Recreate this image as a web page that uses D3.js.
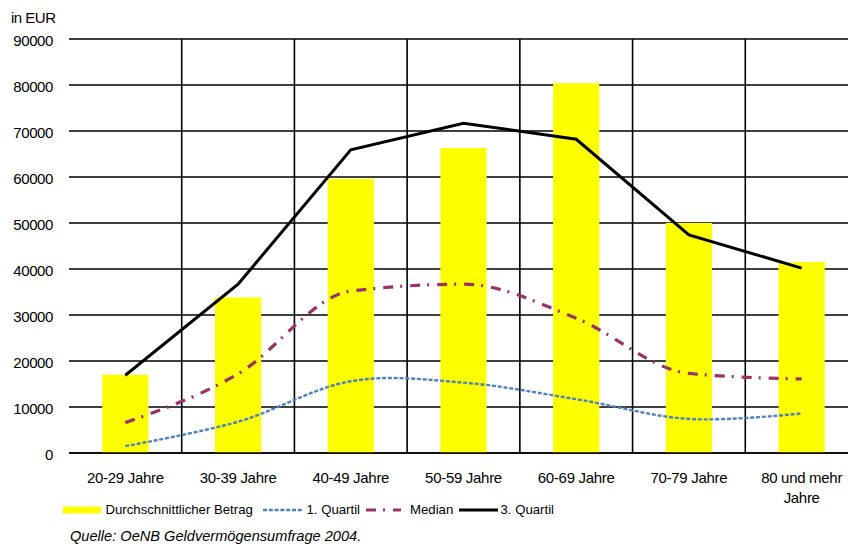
<!DOCTYPE html>
<html>
<head>
<meta charset="utf-8">
<script src="https://cdn.jsdelivr.net/npm/d3@7/dist/d3.min.js"></script>
<style>
  html, body { margin: 0; padding: 0; background: #fff; overflow: hidden; }
  svg { display: block; }
  text { font-family: "Liberation Sans", Arial, sans-serif; fill: #000; }
</style>
</head>
<body>
<svg id="chart" width="848" height="546"></svg>
<script>
const categories = ["20-29 Jahre", "30-39 Jahre", "40-49 Jahre", "50-59 Jahre", "60-69 Jahre", "70-79 Jahre", "80 und mehr|Jahre"];
const durchschnitt = [17000, 33800, 59600, 66300, 80400, 50000, 41500];
const quartil1 = [1500, 6800, 15600, 15300, 11700, 7400, 8600];
const median = [6600, 17200, 35200, 36700, 29300, 17300, 16100];
const quartil3 = [16900, 36700, 65900, 71700, 68200, 47400, 40200];
const yTicks = [0, 10000, 20000, 30000, 40000, 50000, 60000, 70000, 80000, 90000];
const legendLabels = ["Durchschnittlicher  Betrag", "1. Quartil", "Median", "3. Quartil"];
const unitLabel = "in EUR";
const sourceLabel = "Quelle: OeNB Geldvermögensumfrage 2004.";

const svg = d3.select("#chart");
const pLeft = 69, pRight = 858, pTop = 39, pBottom = 453;

const x = d3.scaleBand().domain(categories).range([pLeft, pRight]).paddingInner(0.59).paddingOuter(0.295);
const y = d3.scaleLinear().domain([0, 90000]).range([pBottom, pTop]);
const step = x.step();
const cx = c => x(c) + x.bandwidth() / 2;

// horizontal gridlines
svg.append("g").selectAll("line").data(yTicks).join("line")
  .attr("x1", pLeft).attr("x2", 848)
  .attr("y1", d => y(d)).attr("y2", d => y(d))
  .attr("stroke", "#000").attr("stroke-width", 1.6);

// vertical gridlines at category boundaries
svg.append("g").selectAll("line").data(categories.slice(1)).join("line")
  .attr("x1", d => x(d) - step * 0.295).attr("x2", d => x(d) - step * 0.295)
  .attr("y1", y(90000)).attr("y2", y(0))
  .attr("stroke", "#000").attr("stroke-width", 1.6);

// bars
svg.append("g").selectAll("rect").data(categories).join("rect")
  .attr("x", d => x(d)).attr("width", x.bandwidth())
  .attr("y", (d, i) => y(durchschnitt[i]))
  .attr("height", (d, i) => y(0) - y(durchschnitt[i]))
  .attr("fill", "#FFFF00");

// re-draw baseline on top
svg.append("line").attr("x1", pLeft).attr("x2", 848).attr("y1", y(0)).attr("y2", y(0))
  .attr("stroke", "#000").attr("stroke-width", 1.6);

const smoothQ = d3.line().x((d, i) => cx(categories[i])).y(d => y(d)).curve(d3.curveCatmullRom.alpha(0));
const smoothM = d3.line().x((d, i) => cx(categories[i])).y(d => y(d)).curve(d3.curveMonotoneX);
const straight = d3.line().x((d, i) => cx(categories[i])).y(d => y(d));

svg.append("path").attr("d", smoothQ(quartil1)).attr("fill", "none")
  .attr("stroke", "#4F81BD").attr("stroke-width", 2.4).attr("stroke-dasharray", "4,1.8");
svg.append("path").attr("d", smoothM(median)).attr("fill", "none")
  .attr("stroke", "#993366").attr("stroke-width", 3.2).attr("stroke-dasharray", "10,7,2,8");
svg.append("path").attr("d", straight(quartil3)).attr("fill", "none")
  .attr("stroke", "#000").attr("stroke-width", 3);

// y axis labels
svg.append("g").selectAll("text").data(yTicks).join("text")
  .attr("x", 53).attr("y", d => y(d) + 6.5)
  .attr("text-anchor", "end").attr("font-size", 15).attr("letter-spacing", -0.4)
  .text(d => d);

svg.append("text").attr("x", 11).attr("y", 23).attr("font-size", 15).attr("letter-spacing", -0.5).text(unitLabel);

// x axis labels
const xl = svg.append("g").selectAll("text").data(categories).join("text")
  .attr("x", d => cx(d)).attr("y", 483)
  .attr("text-anchor", "middle").attr("font-size", 15).attr("letter-spacing", -0.3);
xl.each(function(d) {
  const parts = d.split("|");
  const t = d3.select(this);
  parts.forEach((p, i) => {
    t.append("tspan").attr("x", cx(d)).attr("dy", i === 0 ? 0 : 20).text(p);
  });
});

// legend
const lg = svg.append("g");
lg.append("rect").attr("x", 63).attr("y", 506.5).attr("width", 38).attr("height", 7).attr("fill", "#FFFF00");
lg.append("text").attr("x", 105.5).attr("y", 514).attr("font-size", 13.2).text(legendLabels[0]);
lg.append("line").attr("x1", 263).attr("x2", 303).attr("y1", 510).attr("y2", 510)
  .attr("stroke", "#4F81BD").attr("stroke-width", 2.4).attr("stroke-dasharray", "4,1.8");
lg.append("text").attr("x", 306.5).attr("y", 514).attr("font-size", 13.2).text(legendLabels[1]);
lg.append("line").attr("x1", 366).attr("x2", 401).attr("y1", 510).attr("y2", 510)
  .attr("stroke", "#993366").attr("stroke-width", 3).attr("stroke-dasharray", "10,7,2,8");
lg.append("text").attr("x", 410).attr("y", 514).attr("font-size", 13.2).text(legendLabels[2]);
lg.append("line").attr("x1", 459).attr("x2", 498).attr("y1", 510).attr("y2", 510)
  .attr("stroke", "#000").attr("stroke-width", 3);
lg.append("text").attr("x", 500.5).attr("y", 514).attr("font-size", 13.2).text(legendLabels[3]);

svg.append("text").attr("x", 70).attr("y", 541).attr("font-size", 14.6).attr("font-style", "italic").text(sourceLabel);
</script>
</body>
</html>
